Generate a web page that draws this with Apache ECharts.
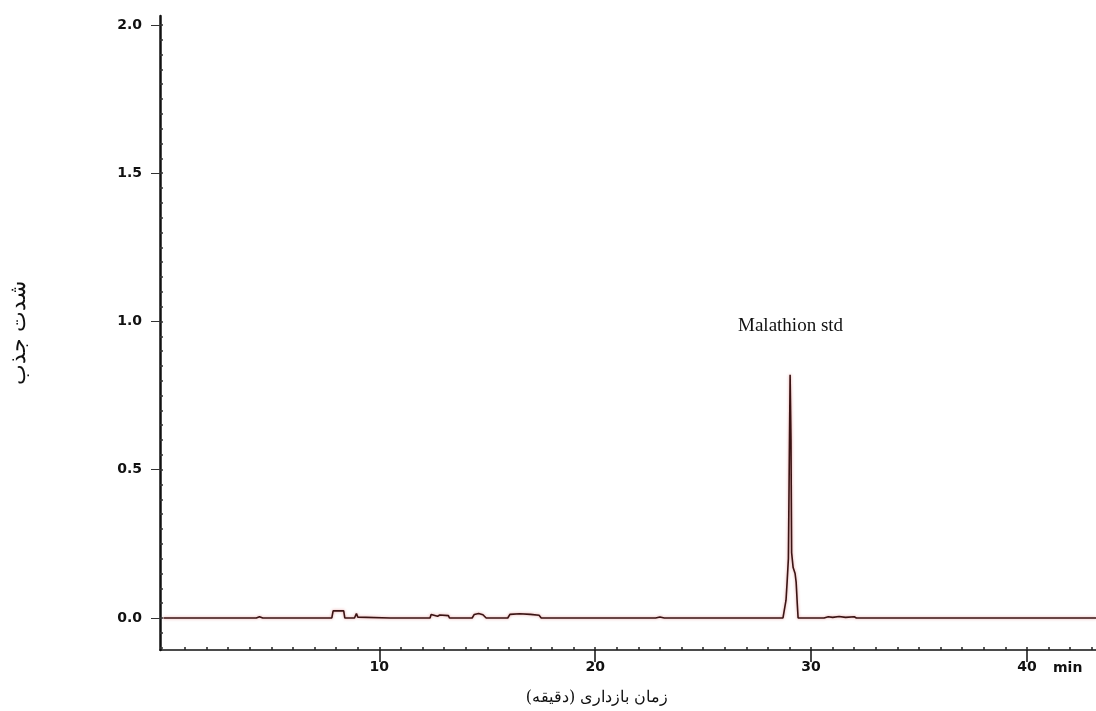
<!DOCTYPE html>
<html>
<head>
<meta charset="utf-8">
<script src="https://cdn.jsdelivr.net/npm/echarts@6/dist/echarts.min.js"></script>
<style>
html,body{margin:0;padding:0;background:#fff;}
#chart{width:1096px;height:711px;}
</style>
</head>
<body>
<div id="chart"></div>
<script>
// Retention time (min) and absorbance
const times = [
  0, 4.3, 4.45, 4.6,
  7.8, 7.86, 7.9, 8.35, 8.4, 8.85, 8.94, 9.0, 9.05,
  10.5, 10.55, 10.6,
  12.35, 12.4, 12.7, 12.8, 13.2, 13.25,
  14.3, 14.4, 14.6, 14.8, 14.95,
  15.95, 16.05, 16.5, 17.0, 17.4, 17.5,
  22.8, 23.0, 23.2,
  28.7, 28.77, 28.84, 28.89, 28.95, 29.03, 29.07, 29.1, 29.17, 29.26, 29.31, 29.36, 29.4,
  30.6, 30.8, 31.0, 31.3, 31.6, 32.0, 32.1, 43.2
];
const absorbance = [
  0, 0, 0.004, 0,
  0, 0.024, 0.025, 0.024, 0, 0, 0.015, 0.003, 0,
  0, 0.002, 0,
  0, 0.012, 0.006, 0.01, 0.008, 0,
  0, 0.012, 0.015, 0.011, 0,
  0, 0.012, 0.014, 0.012, 0.009, 0,
  0, 0.003, 0,
  0, 0.0, 0.06, 0.12, 0.2, 0.82, 0.6, 0.22, 0.17, 0.15, 0.12, 0.05, 0,
  0, 0.004, 0.002, 0.005, 0.002, 0.004, 0, 0
];
const xTickValues = [10, 20, 30, 40];
const yTickValues = [0, 0.5, 1.0, 1.5, 2.0];
const peakName = 'Malathion std';
const peakLabelPos = [29.05, 0.985];
const xTitle = 'زمان بازداری (دقیقه)';
const yTitle = 'شدت جذب';
const xUnit = 'min';

const xMinor = [];
for (let i = 1; i <= 43; i++) xMinor.push(i);
const yMinor = [];
for (let i = -2; i <= 40; i++) yMinor.push(+(i * 0.05).toFixed(2));

const data = times.map((t, i) => [t, absorbance[i]]);

const chart = echarts.init(document.getElementById('chart'));
const X_MIN = -0.16, X_MAX = 43.2, Y_MIN = -0.108, Y_MAX = 2.03;
const labelFont = {fontFamily: 'DejaVu Sans', fontWeight: 'bold', fontSize: 14, color: '#111'};

chart.setOption({
  backgroundColor: '#ffffff',
  animation: false,
  grid: {left: 157, right: 0, top: 16, bottom: 61},
  xAxis: [
    {
      type: 'value', position: 'bottom', min: X_MIN, max: X_MAX,
      axisLine: {onZero: false, lineStyle: {color: '#111', width: 1.5}},
      axisTick: {customValues: xTickValues, length: 12, lineStyle: {color: '#111', width: 1.5}},
      axisLabel: Object.assign({customValues: xTickValues, margin: 10}, labelFont),
      splitLine: {show: false},
      name: xTitle, nameLocation: 'middle', nameGap: 40,
      nameTextStyle: {fontFamily: 'DejaVu Serif', fontSize: 16, color: '#111', padding: [0, 62, 0, 0]}
    },
    {
      type: 'value', position: 'bottom', min: X_MIN, max: X_MAX,
      axisLine: {show: false, onZero: false},
      axisTick: {customValues: xMinor, inside: true, length: 3, lineStyle: {color: '#222', width: 1.5}},
      axisLabel: {show: false},
      splitLine: {show: false}
    }
  ],
  yAxis: [
    {
      type: 'value', position: 'left', min: Y_MIN, max: Y_MAX,
      axisLine: {onZero: false, lineStyle: {color: '#111', width: 2.5}},
      axisTick: {customValues: yTickValues, length: 9, lineStyle: {color: '#333', width: 1}},
      axisLabel: Object.assign({customValues: yTickValues, margin: 18,
        formatter: v => v.toFixed(1)}, labelFont),
      splitLine: {show: false},
      name: yTitle, nameLocation: 'middle', nameGap: 130, nameRotate: 90,
      nameTextStyle: {fontFamily: 'DejaVu Serif', fontSize: 22, color: '#111'}
    },
    {
      type: 'value', position: 'left', min: Y_MIN, max: Y_MAX,
      axisLine: {show: false, onZero: false},
      axisTick: {customValues: yMinor, inside: true, length: 3, lineStyle: {color: '#333', width: 1.5}},
      axisLabel: {show: false},
      splitLine: {show: false}
    }
  ],
  graphic: [
    {type: 'text', left: 1053, top: 661,
     style: {text: xUnit, font: 'bold 14px "DejaVu Sans"', fill: '#111'}}
  ],
  series: [{
    type: 'line', xAxisIndex: 0, yAxisIndex: 0,
    data: data, showSymbol: false, symbol: 'none',
    lineStyle: {color: '#3a1414', width: 1.6, shadowColor: 'rgba(200,30,30,0.45)', shadowBlur: 3},
    markPoint: {
      symbol: 'circle', symbolSize: 0,
      data: [{coord: peakLabelPos, value: peakName}],
      label: {show: true, position: 'inside', formatter: peakName,
        fontFamily: 'Liberation Serif', fontSize: 19, color: '#111'}
    }
  }]
});
</script>
</body>
</html>
